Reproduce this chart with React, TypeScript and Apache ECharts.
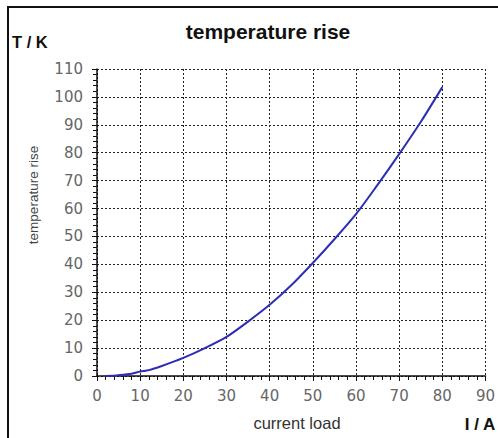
import React, { useEffect, useRef } from "react";
import * as echarts from "echarts";

const currentLoad = [2, 5, 8, 10, 12, 15, 20, 25, 30, 35, 40, 45, 50, 55, 60, 65, 70, 75, 80];
const tempRise = [0, 0.3, 0.8, 1.6, 2.1, 3.6, 6.5, 10, 14, 19.5, 25.5, 32.5, 40.5, 49, 58, 68.5, 79.5, 91, 103.5];

const xTicks = { min: 0, max: 90, interval: 10 };
const yTicks = { min: 0, max: 110, interval: 10 };

export default function App() {
  const ref = useRef<HTMLDivElement>(null);
  useEffect(() => {
    if (!ref.current) return;
    const chart = echarts.init(ref.current, null, { renderer: "svg" });
    const gridLine = { show: true, lineStyle: { color: "#222", width: 1, type: [2, 2] as any } };
    chart.setOption({
      animation: false,
      backgroundColor: "#fff",
      title: {
        text: "temperature rise",
        left: 263,
        textAlign: "center",
        top: 16,
        textStyle: { fontFamily: "Liberation Sans", fontWeight: "bold", fontSize: 21, color: "#111" },
      },
      grid: { left: 97, right: 10, top: 69, bottom: 62 },
      xAxis: {
        type: "value",
        min: xTicks.min,
        max: xTicks.max,
        interval: xTicks.interval,
        axisLine: { show: true, lineStyle: { color: "#111", width: 1.5 } },
        axisTick: { show: true, length: 5, lineStyle: { color: "#111" } },
        minorTick: { show: true, splitNumber: 5, length: 4, lineStyle: { color: "#111" } },
        splitLine: gridLine,
        axisLabel: { fontFamily: "DejaVu Sans", fontSize: 15, color: "#666", margin: 12 },
      },
      yAxis: {
        type: "value",
        min: yTicks.min,
        max: yTicks.max,
        interval: yTicks.interval,
        axisLine: { show: true, lineStyle: { color: "#111", width: 1.5 } },
        axisTick: { show: true, length: 5, lineStyle: { color: "#111" } },
        minorTick: { show: true, splitNumber: 5, length: 4, lineStyle: { color: "#111" } },
        splitLine: gridLine,
        axisLabel: { fontFamily: "DejaVu Sans", fontSize: 15, color: "#666", margin: 14 },
      },
      graphic: [
        {
          type: "rect",
          shape: { x: 8, y: 7, width: 500, height: 450 },
          style: { fill: "none", stroke: "#111", lineWidth: 2 },
          silent: true,
        },
        {
          type: "text",
          x: 12,
          y: 42,
          style: { text: "T / K", fontFamily: "Liberation Sans", fontWeight: "bold", fontSize: 16.5, fill: "#111", textVerticalAlign: "middle" },
        },
        {
          type: "text",
          x: 33,
          y: 195,
          rotation: Math.PI / 2,
          style: { text: "temperature rise", fontFamily: "Liberation Sans", fontSize: 13.5, fill: "#444", textAlign: "center", textVerticalAlign: "middle" },
        },
        {
          type: "text",
          x: 297,
          y: 423,
          style: { text: "current load", fontFamily: "Liberation Sans", fontSize: 16.5, fill: "#333", textAlign: "center", textVerticalAlign: "middle" },
        },
        {
          type: "text",
          x: 480,
          y: 424,
          style: { text: "I / A", fontFamily: "Liberation Sans", fontWeight: "bold", fontSize: 17, fill: "#111", textAlign: "center", textVerticalAlign: "middle" },
        },
      ],
      series: [
        {
          type: "line",
          data: currentLoad.map((x, i) => [x, tempRise[i]]),
          showSymbol: false,
          smooth: 0.3,
          lineStyle: { color: "#2d2db5", width: 2 },
        },
      ],
    });
    return () => chart.dispose();
  }, []);
  return <div ref={ref} style={{ position: "fixed", left: 0, top: 0, width: 498, height: 438 }} />;
}
